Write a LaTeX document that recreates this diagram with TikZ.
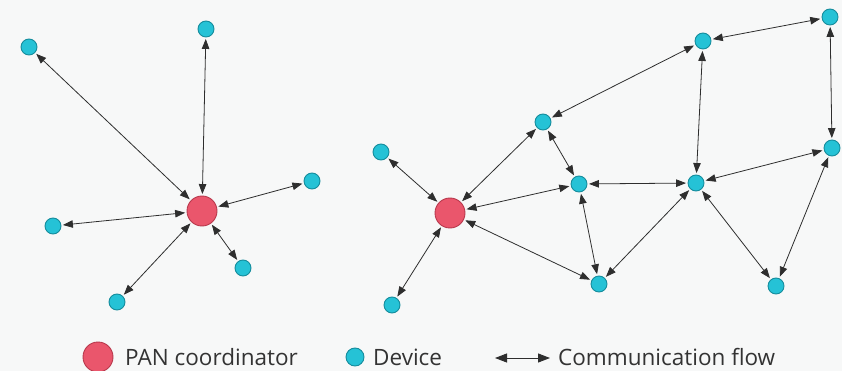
\documentclass[tikz,border=0pt]{standalone}
\usepackage{fontspec}
\setmainfont{Open Sans}
\usetikzlibrary{arrows.meta}
\definecolor{panfill}{HTML}{EA566C}
\definecolor{pandraw}{HTML}{B8384C}
\definecolor{devfill}{HTML}{25C2D6}
\definecolor{devdraw}{HTML}{158C9C}
\definecolor{flow}{HTML}{2E2E2E}
\definecolor{bgcol}{HTML}{F7F8F8}
\definecolor{txtcol}{HTML}{333333}
\tikzset{
  pan/.style={circle, fill=panfill, draw=pandraw, line width=0.9pt, minimum size=30pt, inner sep=0pt},
  dev/.style={circle, fill=devfill, draw=devdraw, line width=0.9pt, minimum size=16pt, inner sep=0pt},
  link/.style={draw=flow, line width=0.8pt, {Triangle[length=10pt,width=7.5pt]}-{Triangle[length=10pt,width=7.5pt]}, shorten >=1.5pt, shorten <=1.5pt},
  legtxt/.style={anchor=base west, inner sep=0pt, text=txtcol, font=\fontsize{22.5}{25}\selectfont}
}
\begin{document}
\begin{tikzpicture}[x=1pt,y=-1pt]
\fill[bgcol] (0,0) rectangle (842,371);
\useasboundingbox (0,0) rectangle (842,371);
% star topology
\node[pan] (p1) at (202,211) {};
\node[dev] (s1) at (29,47) {};
\node[dev] (s2) at (206,29) {};
\node[dev] (s3) at (312,181) {};
\node[dev] (s4) at (53,226) {};
\node[dev] (s5) at (243,268) {};
\node[dev] (s6) at (117,302) {};
\foreach \d in {s1,s2,s3,s4,s5,s6} \draw[link] (p1) -- (\d);
% mesh topology
\node[pan] (p2) at (450,213) {};
\node[dev] (a) at (381,152) {};
\node[dev] (b) at (392,305) {};
\node[dev] (c) at (543,122) {};
\node[dev] (d) at (579,184) {};
\node[dev] (e) at (599,284) {};
\node[dev] (f) at (696,183) {};
\node[dev] (g) at (703,41) {};
\node[dev] (h) at (830,17) {};
\node[dev] (i) at (832,148) {};
\node[dev] (j) at (776,286) {};
\draw[link] (p2) -- (a);
\draw[link] (p2) -- (b);
\draw[link] (p2) -- (c);
\draw[link] (p2) -- (d);
\draw[link] (p2) -- (e);
\draw[link] (c) -- (g);
\draw[link] (c) -- (d);
\draw[link] (d) -- (f);
\draw[link] (d) -- (e);
\draw[link] (e) -- (f);
\draw[link] (g) -- (f);
\draw[link] (g) -- (h);
\draw[link] (h) -- (i);
\draw[link] (i) -- (f);
\draw[link] (f) -- (j);
\draw[link] (i) -- (j);
% legend
\node[pan, minimum size=30pt] (lp) at (98,357) {};
\node[legtxt] (lpt) at (125,365) {PAN coordinator};
\node[dev, minimum size=18pt] (ld) at (355,357) {};
\node[legtxt] (ldt) at (373,365) {Device};
\coordinate (la) at (495,358);
\coordinate (lb) at (550,358);
\draw[draw=flow, line width=1pt, {Triangle[length=12pt,width=9pt]}-{Triangle[length=12pt,width=9pt]}] (la) -- (lb);
\node[legtxt] (lft) at (558,365) {Communication flow};
\end{tikzpicture}
\end{document}
